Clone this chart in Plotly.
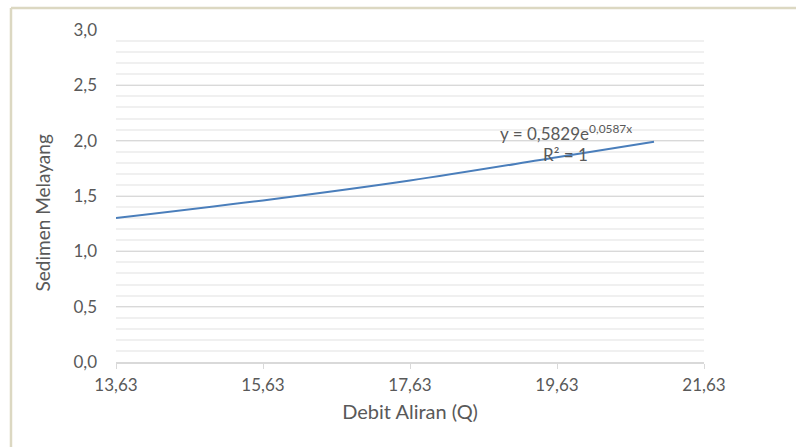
import plotly.graph_objects as go

# data (trendline)
debit = [13.63, 15.63, 17.63, 19.63, 20.95]
sedimen = [1.30, 1.46, 1.64, 1.85, 1.99]
x_ticks = [13.63, 15.63, 17.63, 19.63, 21.63]
y_ticks = [0.0, 0.5, 1.0, 1.5, 2.0, 2.5, 3.0]

FONT = "Lato"
GRAY = "#595959"

fig = go.Figure()
fig.add_trace(go.Scatter(
    x=debit, y=sedimen, mode="lines",
    line=dict(color="#4a7ebb", width=2, shape="spline"),
    showlegend=False, hoverinfo="skip",
))

fig.update_layout(
    width=796, height=447,
    margin=dict(l=116, r=92, t=30, b=85),
    paper_bgcolor="white", plot_bgcolor="white",
    separators=",.",
    font=dict(family=FONT, color=GRAY, size=17),
    xaxis=dict(
        range=[13.63, 21.63], tickvals=x_ticks, tickformat=".2f",
        showgrid=False, zeroline=False,
        showline=True, linecolor="#d9d9d9", linewidth=1.5,
        ticks="outside", ticklen=5, tickcolor="#d9d9d9",
        ticklabelstandoff=2,
        tickfont=dict(size=17, color=GRAY),
        title=dict(text="Debit Aliran (Q)", font=dict(size=20, color=GRAY), standoff=11),
    ),
    yaxis=dict(
        range=[0, 3.0], tickvals=y_ticks, tickformat=".1f",
        showgrid=True, gridcolor="#d9d9d9", gridwidth=1.2,
        zeroline=False, showline=False,
        ticks="", ticklabelstandoff=18,
        tickfont=dict(size=17, color=GRAY),
        minor=dict(dtick=0.1, showgrid=True, gridcolor="#f0f0f0", gridwidth=1.5),
    ),
)

# y-axis title (placed like the reference, slightly below plot centre)
fig.add_annotation(
    x=-0.125, y=0.449, xref="paper", yref="paper",
    xanchor="center", yanchor="middle",
    text="Sedimen Melayang", textangle=-90, showarrow=False,
    font=dict(size=19, color=GRAY, family=FONT),
)

fig.add_annotation(
    x=19.75, y=2.075, xref="x", yref="y",
    text="y = 0,5829e<sup>0,0587x</sup>", showarrow=False,
    font=dict(size=17, color=GRAY, family=FONT),
)
fig.add_annotation(
    x=19.75, y=1.875, xref="x", yref="y",
    text="R² = 1", showarrow=False,
    font=dict(size=17, color=GRAY, family=FONT),
)

# outer chart frame (beige border)
fig.add_shape(type="line", xref="paper", yref="paper",
              x0=-0.1786, x1=-0.1786, y0=-0.4, y1=1.0663,
              line=dict(color="#dcd8c2", width=2.5))
fig.add_shape(type="line", xref="paper", yref="paper",
              x0=-0.1786, x1=1.3, y0=1.0663, y1=1.0663,
              line=dict(color="#dcd8c2", width=2.5))

fig.write_html("out.html")
